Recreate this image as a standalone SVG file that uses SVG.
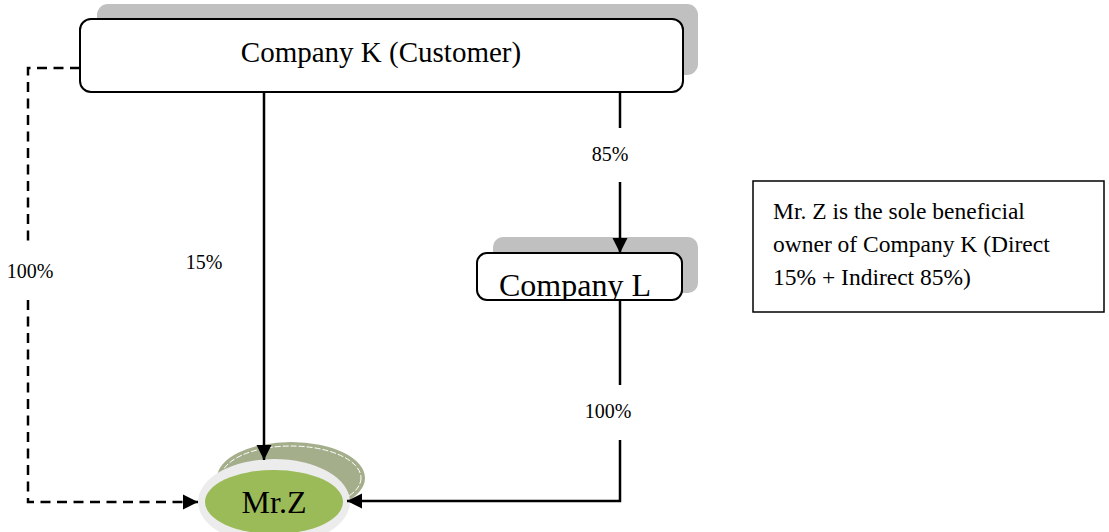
<svg xmlns="http://www.w3.org/2000/svg" width="1109" height="532" viewBox="0 0 1109 532">
  <style>
    .box { fill: #ffffff; stroke: #000000; stroke-width: 2; }
    .shadow { fill: #c0c0c0; }
    .txt { font-family: "Liberation Serif", "Times New Roman", serif; fill: #000000; }
    .pct { font-family: "Liberation Serif", "Times New Roman", serif; font-size: 20px; fill: #000000; }
    .conn { fill: none; stroke: #000000; stroke-width: 2.5; }
    .dash { fill: none; stroke: #000000; stroke-width: 2.5; stroke-dasharray: 10 6.5; }
  </style>
  <defs>
    <marker id="arrow" markerUnits="userSpaceOnUse" markerWidth="16" markerHeight="16" viewBox="0 0 16 16" refX="15" refY="8" orient="auto">
      <path d="M0,0.5 L15,8 L0,15.5 Z" fill="#000000"/>
    </marker>
    <clipPath id="clipL">
      <rect x="478" y="254" width="203" height="46"/>
    </clipPath>
  </defs>

  <rect width="1109" height="532" fill="#ffffff"/>

  <!-- Company K -->
  <g id="node-company-k">
    <rect class="shadow" x="97" y="4" width="601" height="71" rx="11"/>
    <rect class="box" x="80" y="19" width="603" height="73" rx="11"/>
    <text class="txt" x="381" y="62" font-size="29" text-anchor="middle">Company K (Customer)</text>
  </g>

  <!-- Company L -->
  <g id="node-company-l">
    <rect class="shadow" x="493" y="237" width="205" height="56" rx="10"/>
    <rect class="box" x="477" y="253" width="205" height="47" rx="10"/>
    <text class="txt" x="575" y="296" font-size="32" text-anchor="middle" clip-path="url(#clipL)">Company L</text>
  </g>

  <!-- Mr.Z -->
  <g id="node-mr-z">
    <ellipse cx="291" cy="478" rx="74" ry="36" fill="#a5ae8b"/>
    <ellipse cx="291" cy="478" rx="70" ry="32" fill="none" stroke="#ffffff" stroke-width="1" stroke-dasharray="6 2"/>
    <ellipse cx="274" cy="502" rx="76" ry="43" fill="#ececec"/>
    <ellipse cx="274" cy="502" rx="69" ry="32" fill="#9bbb59"/>
    <text class="txt" x="274" y="513" font-size="32" text-anchor="middle">Mr.Z</text>
  </g>

  <!-- Note -->
  <g id="node-note">
    <rect x="753" y="181" width="351" height="131" fill="#ffffff" stroke="#000000" stroke-width="1.5"/>
    <text class="txt" font-size="23.5">
      <tspan x="773" y="219">Mr. Z is the sole beneficial</tspan>
      <tspan x="773" y="252">owner of Company K (Direct</tspan>
      <tspan x="773" y="285">15% + Indirect 85%)</tspan>
    </text>
  </g>

  <!-- Connectors -->
  <g id="connectors">
    <!-- Company K to Mr.Z, direct 15% -->
    <path class="conn" d="M264,92 L264,460" marker-end="url(#arrow)"/>
    <text class="pct" x="204" y="269" text-anchor="middle">15%</text>

    <!-- Company K to Company L, 85% -->
    <path class="conn" d="M620,92 L620,128"/>
    <path class="conn" d="M620,182 L620,253" marker-end="url(#arrow)"/>
    <text class="pct" x="610" y="161" text-anchor="middle">85%</text>

    <!-- Company L to Mr.Z, 100% -->
    <path class="conn" d="M620,300 L620,385"/>
    <path class="conn" d="M620,440 L620,501 L347,501" marker-end="url(#arrow)"/>
    <text class="pct" x="608" y="418" text-anchor="middle">100%</text>

    <!-- Company K to Mr.Z, dashed 100% -->
    <path class="dash" d="M80,68 L28,68 L28,247"/>
    <path class="dash" d="M28,300 L28,502 L198,502" marker-end="url(#arrow)"/>
    <text class="pct" x="30" y="278" text-anchor="middle">100%</text>
  </g>
</svg>
